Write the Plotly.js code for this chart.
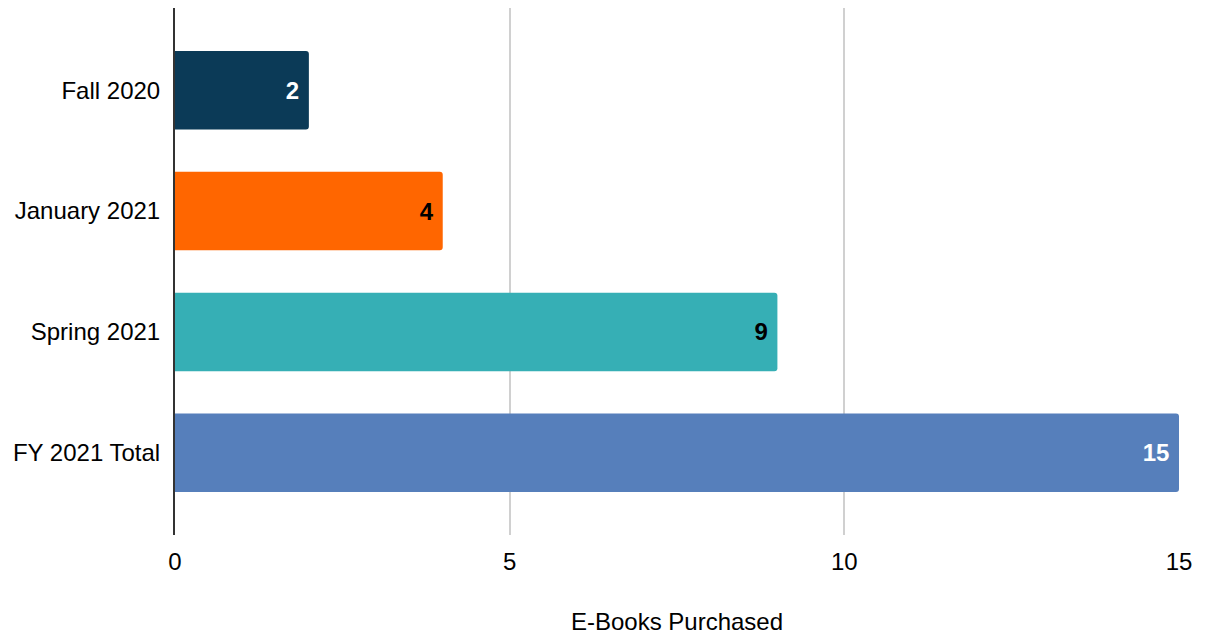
<!DOCTYPE html>
<html>
<head>
<meta charset="utf-8">
<script src="https://cdn.plot.ly/plotly-3.0.1.min.js"></script>
<style>html,body{margin:0;padding:0;background:#fff;}#chart{width:1206px;height:638px;}</style>
</head>
<body>
<div id="chart"></div>
<script>
const categories = ["Fall 2020", "January 2021", "Spring 2021", "FY 2021 Total"];
const values = [2, 4, 9, 15];
const barColors = ["#0B3A57", "#FF6600", "#36AFB5", "#567FBB"];
const labelColors = ["#ffffff", "#000000", "#000000", "#ffffff"];
const xTicks = [0, 5, 10, 15];

const trace = {
  type: "bar",
  orientation: "h",
  y: categories,
  x: values,
  width: 0.65,
  marker: { color: barColors, cornerradius: 3 },
  text: values.map(v => String(v) + "\u00a0"),
  textposition: "inside",
  insidetextanchor: "end",
  textangle: 0,
  textfont: { family: "Liberation Sans, Arial, sans-serif", size: 24, color: labelColors, weight: "bold" },
  hoverinfo: "none",
  cliponaxis: false
};

const layout = {
  width: 1206,
  height: 638,
  margin: { l: 175, r: 27, t: 8, b: 103 },
  paper_bgcolor: "#ffffff",
  plot_bgcolor: "#ffffff",
  showlegend: false,
  font: { family: "Liberation Sans, Arial, sans-serif", size: 24, color: "#000000" },
  xaxis: {
    range: [0, 15],
    tickvals: xTicks,
    ticktext: xTicks.map(String),
    showgrid: true,
    gridcolor: "#d0d0d0",
    gridwidth: 2,
    zeroline: false,
    showline: false,
    ticks: "",
    ticklabelstandoff: 10,
    tickfont: { size: 24, color: "#000000" },
    title: { text: "E-Books Purchased", font: { size: 24, color: "#000000" }, standoff: 39 }
  },
  yaxis: {
    type: "category",
    autorange: false,
    range: [3.68, -0.68],
    showgrid: false,
    zeroline: false,
    showline: true,
    linecolor: "#333333",
    linewidth: 2,
    ticks: "",
    ticklabelstandoff: 8,
    tickfont: { size: 24, color: "#000000" }
  }
};

Plotly.newPlot("chart", [trace], layout, { displayModeBar: false, staticPlot: true });
</script>
</body>
</html>
